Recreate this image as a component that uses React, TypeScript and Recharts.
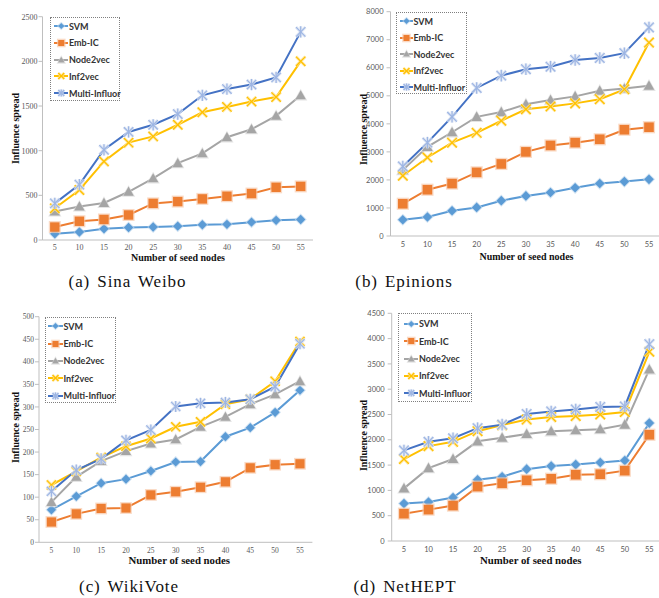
import React from 'react';
import { LineChart, Line, XAxis, YAxis } from 'recharts';

// ---------- data ----------
const seedNodes = [5, 10, 15, 20, 25, 30, 35, 40, 45, 50, 55];
const seriesNames = ['SVM', 'Emb-IC', 'Node2vec', 'Inf2vec', 'Multi-Influor'];

const weiboSVM = [70, 90, 125, 140, 145, 155, 170, 175, 200, 220, 230];
const weiboEmbIC = [145, 210, 230, 280, 410, 430, 460, 490, 520, 590, 600];
const weiboNode2vec = [320, 375, 415, 540, 690, 860, 970, 1150, 1240, 1390, 1620];
const weiboInf2vec = [355, 560, 880, 1090, 1160, 1290, 1430, 1490, 1550, 1600, 2000];
const weiboMulti = [410, 620, 1010, 1210, 1290, 1410, 1620, 1690, 1740, 1820, 2330];

const epinionsSVM = [580, 680, 900, 1020, 1260, 1430, 1550, 1720, 1870, 1940, 2020];
const epinionsEmbIC = [1150, 1650, 1870, 2270, 2570, 3000, 3230, 3330, 3450, 3790, 3880];
const epinionsNode2vec = [2350, 3180, 3700, 4250, 4420, 4700, 4850, 4980, 5180, 5260, 5360];
const epinionsInf2vec = [2150, 2800, 3330, 3680, 4110, 4520, 4620, 4730, 4880, 5230, 6900];
const epinionsMulti = [2480, 3330, 4250, 5280, 5720, 5950, 6040, 6280, 6350, 6520, 7440];

const wikiSVM = [72, 102, 131, 140, 158, 178, 179, 234, 254, 288, 337];
const wikiEmbIC = [45, 63, 75, 76, 105, 112, 122, 134, 165, 172, 174];
const wikiNode2vec = [89, 145, 180, 202, 219, 228, 256, 278, 306, 328, 357];
const wikiInf2vec = [127, 157, 188, 213, 230, 256, 267, 306, 317, 357, 445];
const wikiMulti = [113, 160, 185, 226, 249, 301, 308, 310, 317, 345, 440];

const hepSVM = [740, 770, 860, 1210, 1270, 1420, 1480, 1510, 1550, 1590, 2330];
const hepEmbIC = [540, 620, 700, 1075, 1140, 1200, 1230, 1310, 1320, 1390, 2100];
const hepNode2vec = [1040, 1440, 1620, 1970, 2040, 2115, 2170, 2190, 2210, 2300, 3390];
const hepInf2vec = [1620, 1875, 1960, 2170, 2290, 2400, 2450, 2470, 2500, 2550, 3740];
const hepMulti = [1790, 1960, 2030, 2230, 2300, 2510, 2560, 2600, 2650, 2660, 3890];

const weiboTicks = [0, 500, 1000, 1500, 2000, 2500];
const epinionsTicks = [0, 1000, 2000, 3000, 4000, 5000, 6000, 7000, 8000];
const wikiTicks = [0, 50, 100, 150, 200, 250, 300, 350, 400, 450, 500];
const hepTicks = [0, 500, 1000, 1500, 2000, 2500, 3000, 3500, 4000, 4500];

const captions = ['(a) Sina Weibo', '(b) Epinions', '(c) WikiVote', '(d) NetHEPT'];
const xTitle = 'Number of seed nodes';
const yTitle = 'Influence spread';

// ---------- style ----------
const lineColors = ['#5B9BD5', '#ED7D31', '#A5A5A5', '#FFC000', '#4472C4'];
const markerColors = ['#5B9BD5', '#ED7D31', '#A5A5A5', '#FFC000', '#9DB5E3'];
const haloColors = ['#BDD7EE', '#F8CBAD', '#D9D9D9', '#FFE699', '#DAE3F3'];
const markerShapes = ['diamond', 'square', 'triangle', 'x', 'star'];

const build = (cols: number[][]) =>
  seedNodes.map((s, i) => {
    const row: any = { seed: s };
    seriesNames.forEach((n, k) => (row[n] = cols[k][i]));
    return row;
  });

function shapeEl(shape: string, cx: number, cy: number, s: number, color: string, extra: any = {}) {
  switch (shape) {
    case 'diamond':
      return <polygon points={`${cx},${cy - s} ${cx + s},${cy} ${cx},${cy + s} ${cx - s},${cy}`} fill={color} opacity={extra.opacity} />;
    case 'square':
      return <rect x={cx - s} y={cy - s} width={2 * s} height={2 * s} fill={color} opacity={extra.opacity} />;
    case 'triangle':
      return (
        <polygon
          points={`${cx},${cy - s * 1.1} ${cx + s * 1.1},${cy + s * 0.85} ${cx - s * 1.1},${cy + s * 0.85}`}
          fill={color}
          opacity={extra.opacity}
        />
      );
    case 'x':
      return (
        <g stroke={color} strokeWidth={extra.sw || 1.3} opacity={extra.opacity}>
          <line x1={cx - s} y1={cy - s} x2={cx + s} y2={cy + s} />
          <line x1={cx - s} y1={cy + s} x2={cx + s} y2={cy - s} />
        </g>
      );
    default:
      return (
        <g stroke={color} strokeWidth={extra.sw || 1.2} opacity={extra.opacity}>
          <line x1={cx - s} y1={cy - s} x2={cx + s} y2={cy + s} />
          <line x1={cx - s} y1={cy + s} x2={cx + s} y2={cy - s} />
          <line x1={cx} y1={cy - s * 1.2} x2={cx} y2={cy + s * 1.2} />
        </g>
      );
  }
}

function Marker({ k, cx, cy, s }: { k: number; cx: number; cy: number; s: number }) {
  const shape = markerShapes[k];
  const halo =
    shape === 'x' || shape === 'star'
      ? shapeEl(shape, cx, cy, s, haloColors[k], { sw: 3, opacity: 0.8 })
      : shapeEl(shape, cx, cy, s + 1.3, haloColors[k], { opacity: 0.7 });
  return (
    <g>
      {halo}
      {shapeEl(shape, cx, cy, s, markerColors[k])}
    </g>
  );
}

type PanelProps = {
  left: number;
  top: number;
  width: number;
  height: number;
  margin: { top: number; right: number; bottom: number; left: number };
  yWidth: number;
  xHeight: number;
  pad: number;
  ticks: number[];
  cols: number[][];
  tickFont: string;
  tickSize: number;
  xTickGap: number;
  yTickGap: number;
  ms: number;
};

const axisColor = '#BFBFBF';

function Panel(p: PanelProps) {
  const data = build(p.cols);
  const tickStyle = { fontFamily: p.tickFont, fontSize: p.tickSize, fill: '#595959' };
  return (
    <div style={{ position: 'absolute', left: p.left, top: p.top }}>
      <LineChart width={p.width} height={p.height} data={data} margin={p.margin}>
        <XAxis
          dataKey="seed"
          type="category"
          height={p.xHeight}
          padding={{ left: p.pad, right: p.pad }}
          tickLine={false}
          tickSize={0}
          tickMargin={p.xTickGap}
          axisLine={{ stroke: axisColor }}
          tick={tickStyle}
          interval={0}
        />
        <XAxis
          xAxisId="top"
          dataKey="seed"
          orientation="top"
          height={0}
          tick={false}
          tickLine={false}
          axisLine={{ stroke: axisColor }}
        />
        <YAxis
          type="number"
          domain={[p.ticks[0], p.ticks[p.ticks.length - 1]]}
          ticks={p.ticks}
          interval={0}
          width={p.yWidth}
          tickSize={4}
          tickMargin={p.yTickGap}
          tickLine={{ stroke: axisColor }}
          axisLine={{ stroke: axisColor }}
          tick={tickStyle}
        />
        <YAxis
          yAxisId="right"
          orientation="right"
          width={0}
          tick={false}
          tickLine={false}
          axisLine={{ stroke: axisColor }}
        />
        {seriesNames.map((n, k) => (
          <Line
            key={n}
            dataKey={n}
            stroke={lineColors[k]}
            strokeWidth={2}
            isAnimationActive={false}
            activeDot={false}
            dot={(d: any) => <Marker key={`${n}-${d.index}`} k={k} cx={d.cx} cy={d.cy} s={p.ms} />}
          />
        ))}
      </LineChart>
    </div>
  );
}

type LegendProps = { x: number; y: number; w: number; h: number; first: number; step: number; sample: number; lx: number };

function LegendBox(l: LegendProps) {
  return (
    <div
      style={{
        position: 'absolute',
        left: l.x,
        top: l.y,
        width: l.w,
        height: l.h,
        border: '1px dotted #7F7F7F',
        boxSizing: 'border-box',
        background: 'transparent',
      }}
    >
      {seriesNames.map((n, k) => (
        <div
          key={n}
          style={{
            position: 'absolute',
            left: l.lx,
            top: l.first + k * l.step - 6,
            height: 12,
            display: 'flex',
            alignItems: 'center',
            whiteSpace: 'nowrap',
          }}
        >
          <svg width={l.sample} height={12} style={{ display: 'block' }}>
            <line x1={0} y1={6} x2={l.sample} y2={6} stroke={lineColors[k]} strokeWidth={2} />
            <Marker k={k} cx={l.sample / 2} cy={6} s={3} />
          </svg>
          <span
            style={{
              fontFamily: 'Lato, "Liberation Sans", sans-serif',
              fontWeight: 700,
              fontSize: 9,
              color: '#333333',
              marginLeft: 1,
              lineHeight: '11px',
            }}
          >
            {n}
          </span>
        </div>
      ))}
    </div>
  );
}

const titleFont = '"Liberation Serif", "Times New Roman", serif';

function XTitle({ cx, cy, size }: { cx: number; cy: number; size: number }) {
  return (
    <div
      style={{
        position: 'absolute',
        left: cx - 70,
        top: cy - 5.5,
        width: 140,
        height: 11,
        lineHeight: '11px',
        textAlign: 'center',
        fontFamily: titleFont,
        fontWeight: 700,
        fontSize: size,
        color: '#111',
        whiteSpace: 'nowrap',
      }}
    >
      {xTitle}
    </div>
  );
}

function YTitle({ cx, cy, size }: { cx: number; cy: number; size: number }) {
  return (
    <div
      style={{
        position: 'absolute',
        left: cx - 50,
        top: cy - 5.5,
        width: 100,
        height: 11,
        lineHeight: '11px',
        textAlign: 'center',
        fontFamily: titleFont,
        fontWeight: 700,
        fontSize: size,
        color: '#111',
        whiteSpace: 'nowrap',
        transform: 'rotate(-90deg)',
      }}
    >
      {yTitle}
    </div>
  );
}

function Caption({ cx, cy, text }: { cx: number; cy: number; text: string }) {
  return (
    <div
      style={{
        position: 'absolute',
        left: cx - 100,
        top: cy - 11,
        width: 200,
        height: 22,
        lineHeight: '22px',
        textAlign: 'center',
        fontFamily: titleFont,
        fontSize: 17,
        letterSpacing: 0.9,
        wordSpacing: 2,
        color: '#111',
      }}
    >
      {text}
    </div>
  );
}

const serifTick = '"Liberation Serif", "Times New Roman", serif';
const sansTick = 'Lato, "Liberation Sans", sans-serif';

export default function App() {
  return (
    <div
      style={{
        position: 'absolute',
        left: 0,
        top: 0,
        width: 659,
        height: 598,
        overflow: 'hidden',
        background: '#fff',
      }}
    >
      <Panel
        left={0}
        top={0}
        width={330}
        height={265}
        margin={{ top: 16.7, right: 17, bottom: 0, left: 0 }}
        yWidth={42.5}
        xHeight={25}
        pad={12.3}
        ticks={weiboTicks}
        cols={[weiboSVM, weiboEmbIC, weiboNode2vec, weiboInf2vec, weiboMulti]}
        tickFont={serifTick}
        tickSize={8}
        xTickGap={4}
        yTickGap={1}
        ms={4.7}
      />
      <Panel
        left={330}
        top={0}
        width={340}
        height={265}
        margin={{ top: 11.7, right: 8.7, bottom: 0, left: 0 }}
        yWidth={60.5}
        xHeight={29}
        pad={12.31}
        ticks={epinionsTicks}
        cols={[epinionsSVM, epinionsEmbIC, epinionsNode2vec, epinionsInf2vec, epinionsMulti]}
        tickFont={sansTick}
        tickSize={7.5}
        xTickGap={6}
        yTickGap={3}
        ms={4.8}
      />
      <Panel
        left={0}
        top={295}
        width={330}
        height={270}
        margin={{ top: 21.7, right: 17.6, bottom: 0, left: 0 }}
        yWidth={39}
        xHeight={22.7}
        pad={12.43}
        ticks={wikiTicks}
        cols={[wikiSVM, wikiEmbIC, wikiNode2vec, wikiInf2vec, wikiMulti]}
        tickFont={serifTick}
        tickSize={7.5}
        xTickGap={5}
        yTickGap={1}
        ms={4.6}
      />
      <Panel
        left={330}
        top={295}
        width={340}
        height={270}
        margin={{ top: 18.3, right: 8.4, bottom: 0, left: 0 }}
        yWidth={61.7}
        xHeight={24}
        pad={12.27}
        ticks={hepTicks}
        cols={[hepSVM, hepEmbIC, hepNode2vec, hepInf2vec, hepMulti]}
        tickFont={sansTick}
        tickSize={7.5}
        xTickGap={6}
        yTickGap={3}
        ms={4.8}
      />

      <LegendBox x={50} y={17} w={70} h={84} first={8} step={16.8} sample={14.5} lx={2.5} />
      <LegendBox x={396} y={12} w={71} h={82} first={8} step={16.5} sample={13} lx={2.5} />
      <LegendBox x={45} y={317} w={71} h={86} first={8.3} step={17.3} sample={15} lx={1.5} />
      <LegendBox x={398} y={313} w={74} h={89} first={9.7} step={17.4} sample={14.5} lx={4.5} />

      <XTitle cx={178} cy={257.5} size={10} />
      <XTitle cx={526.5} cy={256.5} size={10} />
      <XTitle cx={179.3} cy={560.5} size={10.8} />
      <XTitle cx={530.8} cy={560.5} size={10.8} />

      <YTitle cx={15} cy={128} size={10} />
      <YTitle cx={362.7} cy={129} size={10} />
      <YTitle cx={15} cy={427.5} size={10} />
      <YTitle cx={363} cy={435.8} size={10} />

      <Caption cx={127.5} cy={282} text={captions[0]} />
      <Caption cx={404} cy={282} text={captions[1]} />
      <Caption cx={129} cy={587} text={captions[2]} />
      <Caption cx={405} cy={587} text={captions[3]} />
    </div>
  );
}
